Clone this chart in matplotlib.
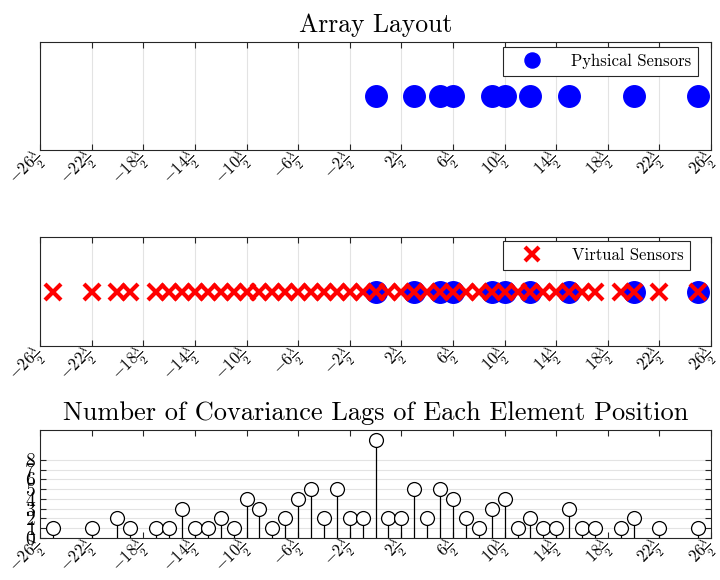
import numpy as np
import matplotlib
matplotlib.use("Agg")
import matplotlib.pyplot as plt

plt.rcParams['font.family'] = 'serif'
plt.rcParams['font.serif'] = ['cmr10', 'DejaVu Serif']
plt.rcParams['mathtext.fontset'] = 'cm'
plt.rcParams['axes.unicode_minus'] = False

# physical element positions (in units of lambda/2)
phys_pos = [0, 3, 5, 6, 9, 10, 12, 15, 20, 25]

# difference coarray: lags present and how often each one occurs
lag_pos = [-25, -22, -20, -19, -17, -16, -15, -14, -13, -12, -11, -10, -9, -8,
           -7, -6, -5, -4, -3, -2, -1, 0, 1, 2, 3, 4, 5, 6, 7, 8, 9, 10, 11,
           12, 13, 14, 15, 16, 17, 19, 20, 22, 25]
lag_count = [1, 1, 2, 1, 1, 1, 3, 1, 1, 2, 1, 4, 3, 1,
             2, 4, 5, 2, 5, 2, 2, 10, 2, 2, 5, 2, 5, 4, 2, 1, 3, 4, 1,
             2, 1, 1, 3, 1, 1, 1, 2, 1, 1]

xticks = list(range(-26, 27, 4))
xticklabels = [r'$%d\frac{\lambda}{2}$' % t for t in xticks]
yticks = list(range(0, 9))

edge = '#262626'
grid_c = '#e3e3e3'

fig = plt.figure(figsize=(7.2, 5.8), dpi=100)
ax1 = fig.add_axes([0.0556, 0.7414, 0.932, 0.186])
ax2 = fig.add_axes([0.0556, 0.4034, 0.932, 0.188])
ax3 = fig.add_axes([0.0556, 0.073, 0.932, 0.186])


def style_x(ax, vgrid=True):
    ax.set_xlim(-26, 26)
    ax.set_xticks(xticks)
    ax.set_xticklabels(xticklabels, rotation=45, ha='right', va='center',
                       rotation_mode='anchor', fontsize=12)
    ax.tick_params(axis='x', direction='in', top=True, length=4,
                   color=edge, pad=4)
    for s in ax.spines.values():
        s.set_color(edge)
        s.set_linewidth(0.8)
    if vgrid:
        ax.grid(axis='x', color=grid_c, linewidth=0.8)
    ax.set_axisbelow(True)


def box_legend(ax, anchor, **kw):
    leg = ax.legend(loc='upper right', bbox_to_anchor=anchor,
                    borderaxespad=0, fontsize=12, fancybox=False,
                    edgecolor=edge, framealpha=1, handlelength=2.7,
                    handletextpad=1.0, borderpad=0.4, **kw)
    leg.get_frame().set_linewidth(0.8)
    return leg


# array layout
ax1.plot(phys_pos, np.zeros(len(phys_pos)), 'o', color='#0000ff',
         markersize=15.5, linestyle='none', label='Pyhsical Sensors')
ax1.set_ylim(-1, 1)
ax1.set_yticks([])
style_x(ax1)
ax1.set_title('Array Layout', fontsize=18.5, pad=7)
box_legend(ax1, (0.9806, 0.955), markerscale=0.7)

# virtual sensors on top of the physical ones
ax2.plot(phys_pos, np.zeros(len(phys_pos)), 'o', color='#0000ff',
         markersize=15.5, linestyle='none')
ax2.plot(lag_pos, np.zeros(len(lag_pos)), 'x', color='#ff0000',
         markersize=11.5, markeredgewidth=3, linestyle='none',
         label='Virtual Sensors')
ax2.set_ylim(-1, 1)
ax2.set_yticks([])
style_x(ax2)
box_legend(ax2, (0.9687, 0.963), markerscale=0.85)

# number of lags per coarray position
ml, sl, bl = ax3.stem(lag_pos, lag_count, linefmt='-', basefmt=' ')
plt.setp(sl, color='black', linewidth=0.9)
plt.setp(ml, marker='o', markersize=10, markerfacecolor='white',
         markeredgecolor='black', markeredgewidth=0.9)
ax3.set_ylim(0, 11.1)
ax3.set_yticks(yticks)
ax3.set_yticklabels([r'$%d$' % v for v in yticks], fontsize=14)
ax3.tick_params(axis='y', direction='in', right=True, length=4,
                color=edge, pad=3)
ax3.grid(axis='y', color=grid_c, linewidth=0.8)
style_x(ax3, vgrid=False)
ax3.set_title('Number of Covariance Lags of Each Element Position',
              fontsize=19, pad=7)

fig.savefig('out.png', dpi=100)
